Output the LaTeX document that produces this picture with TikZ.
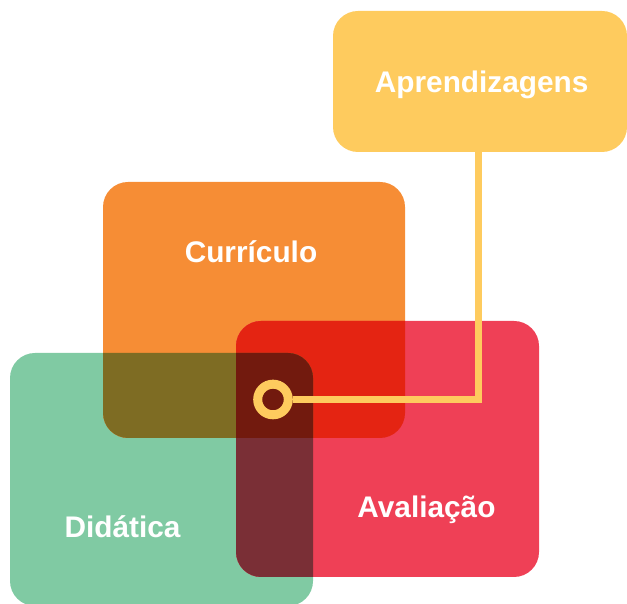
\documentclass[tikz,border=0pt]{standalone}
\usepackage{fontspec}
\setmainfont{Liberation Sans}
\definecolor{cyellow}{HTML}{FECB5E}
\definecolor{corange}{HTML}{F68D35}
\definecolor{cred}{HTML}{EF4056}
\definecolor{cgreen}{HTML}{80CAA3}
\definecolor{cor}{HTML}{E42412}
\definecolor{cog}{HTML}{7E6C23}
\definecolor{crg}{HTML}{7A2F36}
\definecolor{corg}{HTML}{721A0E}
\tikzset{
  lbl/.style={text=white, font=\bfseries\fontsize{29.8}{34}\selectfont, anchor=base, inner sep=0pt},
  conn/.style={draw=cyellow, line width=7.5pt, line join=miter},
  boxr/.style={rounded corners=25pt}
}
\begin{document}
\begin{tikzpicture}[x=1pt,y=1pt]
\useasboundingbox (0,0) rectangle (627,604);
% boxes
\def\GREEN{(10,-2) rectangle (313,251)}
\def\ORANGE{(103,166) rectangle (405,422)}
\def\RED{(236,27) rectangle (539,283)}
\fill[cgreen, boxr] \GREEN;
\fill[corange, boxr] \ORANGE;
\fill[cred, boxr] \RED;
\begin{scope}
  \clip[boxr] \ORANGE;
  \fill[cor, boxr] \RED;
  \fill[cog, boxr] \GREEN;
  \clip[boxr] \RED;
  \fill[corg, boxr] \GREEN;
\end{scope}
\begin{scope}
  \clip[boxr] \RED;
  \clip[boxr] \GREEN;
  \clip (0,0) rectangle (627,166);
  \fill[crg] (0,0) rectangle (627,166);
\end{scope}
% yellow box
\node[fill=cyellow, rounded corners=25pt, minimum width=294pt, minimum height=141pt, inner sep=0pt] (ybox) at (480,522.5) {};
\node[lbl] (tapr) at (481.7,511) {Aprendizagens};
% labels
\node[lbl] (tcur) at (251,341) {Currículo};
\node[lbl] (tdid) at (122.5,66) {Didática};
\node[lbl] (tava) at (426.5,86) {Avaliação};
% connector
\node[circle, draw=cyellow, line width=9pt, minimum size=30.6pt, inner sep=0pt] (ring) at (273,204.5) {};
\coordinate (bend) at (478.5,204.5);
\draw[conn] (ring.east) -- (bend) -- (bend |- ybox.south);
\end{tikzpicture}
\end{document}
